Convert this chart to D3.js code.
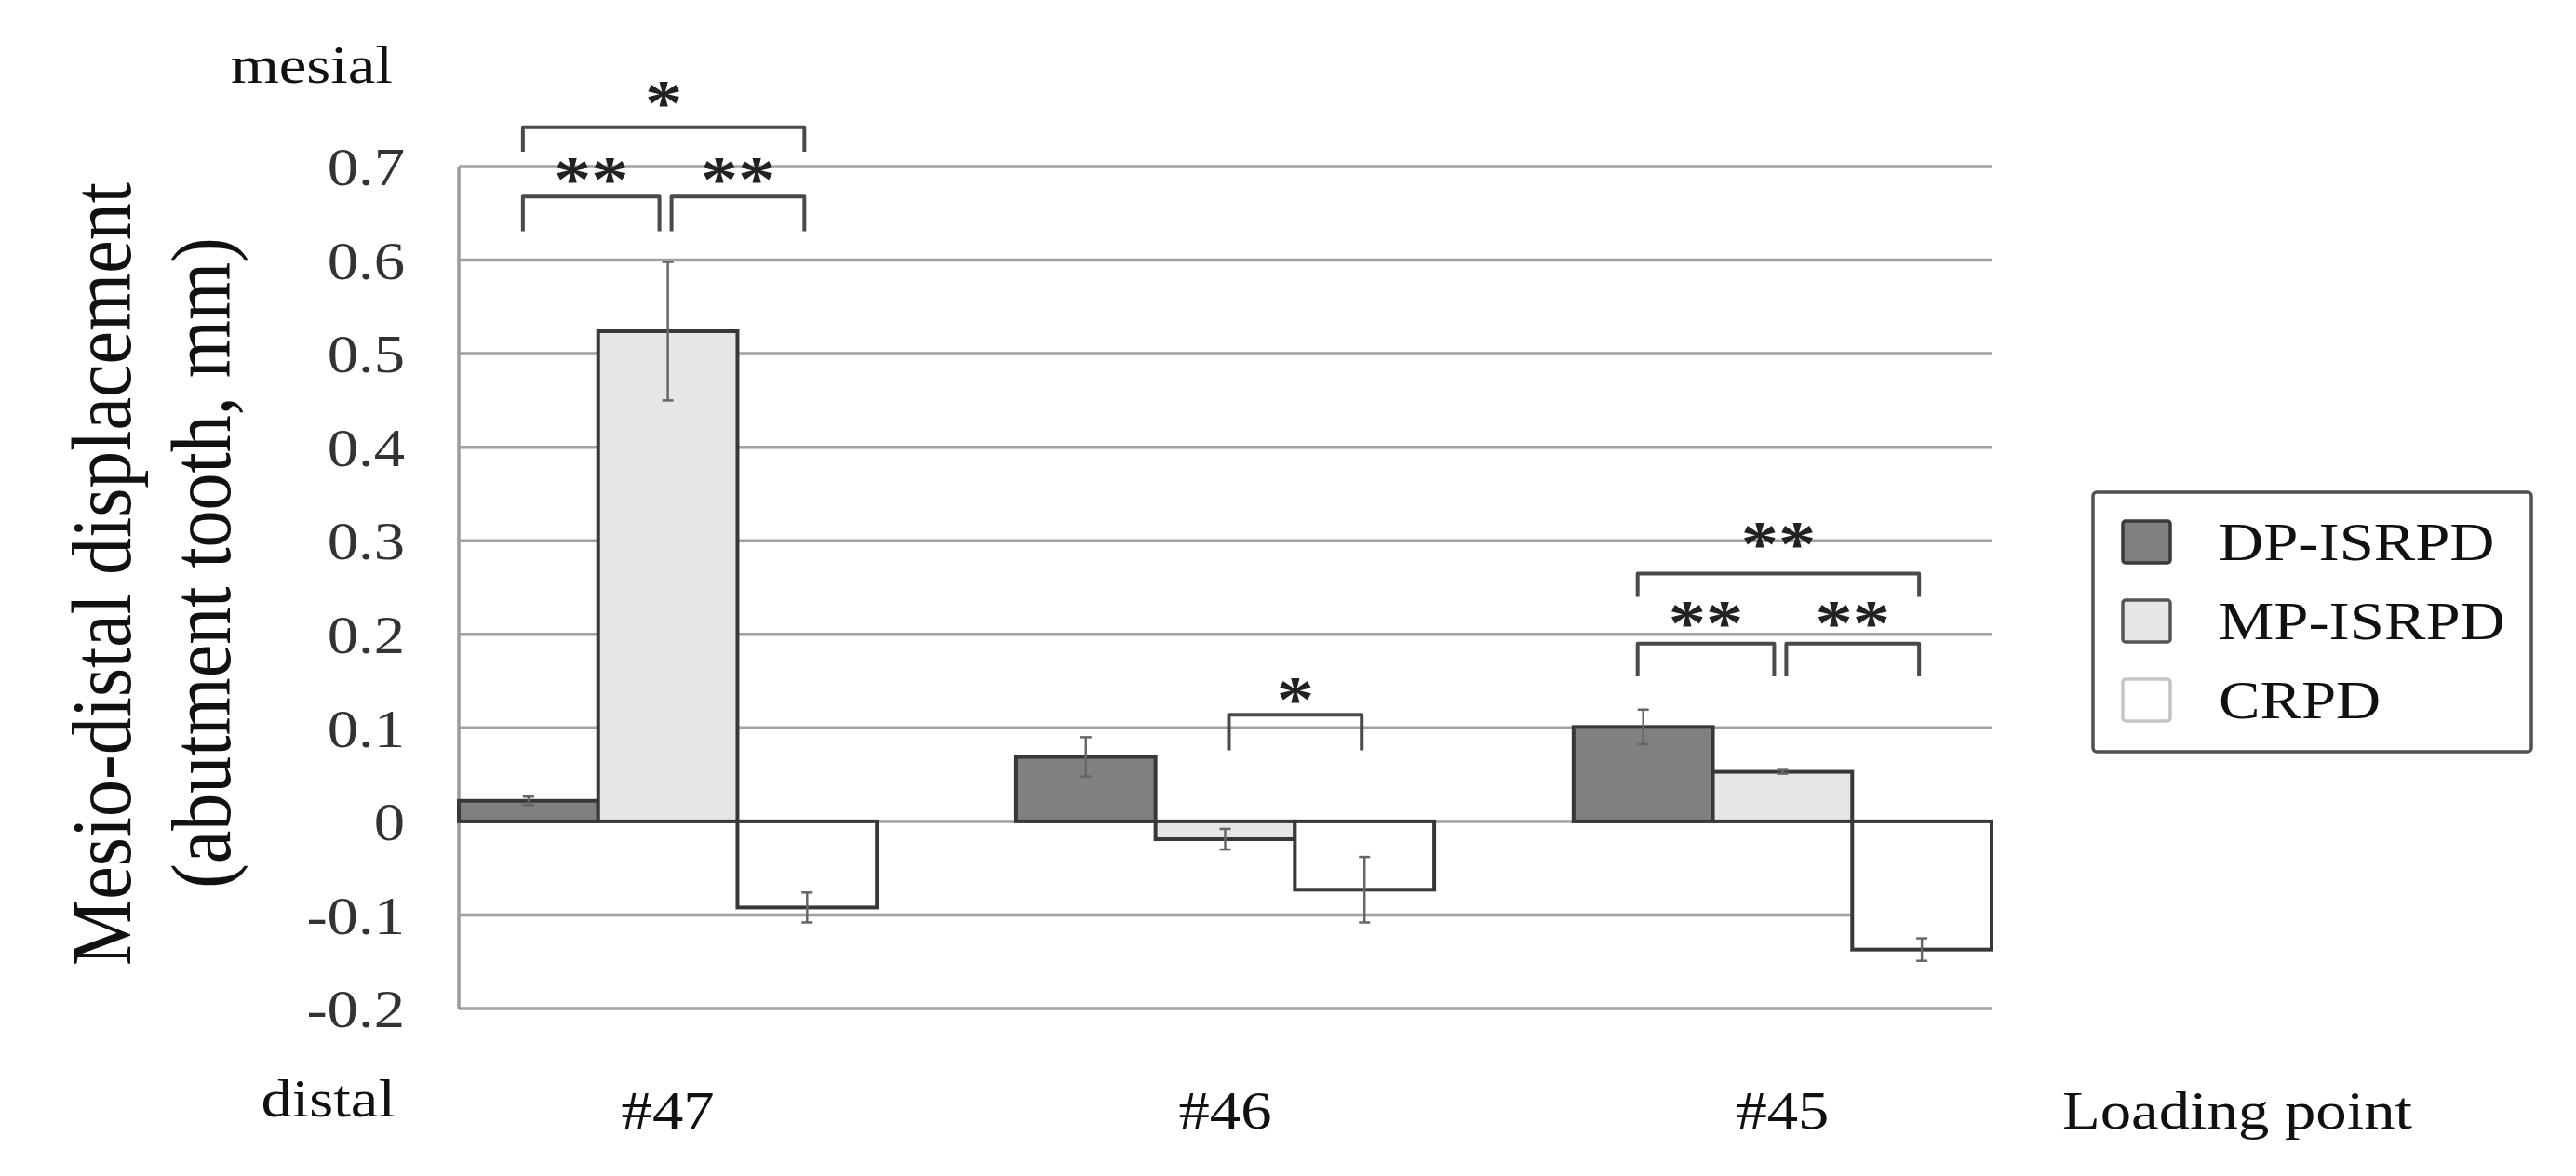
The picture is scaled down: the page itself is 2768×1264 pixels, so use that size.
<!DOCTYPE html>
<html>
<head>
<meta charset="utf-8">
<script src="https://cdnjs.cloudflare.com/ajax/libs/d3/7.8.5/d3.min.js"></script>
<style>
body { margin: 0; background: #fff; }
text { font-family: "Liberation Serif", "Times New Roman", serif; }
</style>
</head>
<body>
<script>
const categories = ["#47", "#46", "#45"];
const seriesNames = ["DP-ISRPD", "MP-ISRPD", "CRPD"];
const dpValues = [0.022, 0.069, 0.101];
const mpValues = [0.524, -0.019, 0.053];
const crpdValues = [-0.092, -0.073, -0.137];
const dpErr = [0.0045, 0.021, 0.0185];
const mpErr = [0.074, 0.011, 0.002];
const crpdErr = [0.016, 0.035, 0.012];
const yTicks = [-0.2, -0.1, 0, 0.1, 0.2, 0.3, 0.4, 0.5, 0.6, 0.7];

// significance brackets (group, series from/to, bracket height, leg length, label, label height)
const sigGroup = [0, 0, 0, 1, 2, 2, 2];
const sigFrom = [0, 0, 1, 1, 0, 0, 1];
const sigTo = [2, 1, 2, 2, 2, 1, 2];
const sigY = [0.742, 0.668, 0.668, 0.114, 0.265, 0.190, 0.190];
const sigLeg = [0.026, 0.037, 0.037, 0.038, 0.025, 0.035, 0.035];
const sigLabel = ["*", "**", "**", "*", "**", "**", "**"];
const sigLabelY = [0.781, 0.699, 0.699, 0.143, 0.309, 0.225, 0.225];

const width = 2768, height = 1264;
const sx = 1.15; // the picture is a bit stretched sideways

var table = categories.map(function(c, i) {
    return {
        cat: c,
        values: [dpValues[i], mpValues[i], crpdValues[i]],
        errs: [dpErr[i], mpErr[i], crpdErr[i]]
    };
});

var svg = d3.select("body").append("svg")
            .attr("width", width)
            .attr("height", height);

var y = d3.scaleLinear()
          .domain([-0.2, 0.7])
          .range([1084, 179]);

var x0 = d3.scaleBand()
           .domain(categories)
           .range([493, 2140])
           .paddingInner(0.25)
           .paddingOuter(0);

var x1 = d3.scaleBand()
           .domain(seriesNames)
           .range([0, x0.bandwidth()]);

var fill = d3.scaleOrdinal()
             .domain(seriesNames)
             .range(["#808080", "#e6e5e7", "#ffffff"]);

function stretched(g, x, yy, str, anchor) {
    return g.append("text")
            .attr("transform", "translate(" + x + "," + yy + ") scale(" + sx + ",1)")
            .attr("text-anchor", anchor)
            .text(str);
}

// grid
svg.append("g").selectAll("line")
   .data(yTicks)
   .enter().append("line")
   .attr("x1", 493)
   .attr("x2", 2140)
   .attr("y1", function(d) { return y(d); })
   .attr("y2", function(d) { return y(d); })
   .attr("stroke", "#a2a2a2")
   .attr("stroke-width", 3.5);

svg.append("line")
   .attr("x1", 493).attr("x2", 493)
   .attr("y1", y(0.7)).attr("y2", y(-0.2))
   .attr("stroke", "#9c9c9c")
   .attr("stroke-width", 3.5);

// y axis labels
var yAxis = svg.append("g")
               .attr("transform", "translate(435,0)")
               .call(d3.axisLeft(y).tickValues(yTicks).tickSize(0)
                       .tickFormat(function(d) { return String(d); }));
yAxis.select(".domain").remove();
yAxis.selectAll("text")
     .attr("x", 0)
     .attr("dy", "0.34em")
     .attr("transform", "scale(" + sx + ",1)")
     .attr("font-size", 58)
     .attr("font-family", "Liberation Serif")
     .attr("fill", "#333");

// x axis labels
var xAxis = svg.append("g")
               .attr("transform", "translate(0,1213)")
               .call(d3.axisBottom(x0).tickSize(0));
xAxis.select(".domain").remove();
xAxis.selectAll("text")
     .attr("y", 0)
     .attr("dy", null)
     .attr("transform", "scale(" + sx + ",1)")
     .attr("font-size", 58)
     .attr("font-family", "Liberation Serif")
     .attr("fill", "#111");

// bars
var groups = svg.append("g").selectAll("g")
                .data(table)
                .enter().append("g")
                .attr("transform", function(d) { return "translate(" + x0(d.cat) + ",0)"; });

groups.selectAll("rect")
      .data(function(d) { return d.values.map(function(v, j) { return {name: seriesNames[j], v: v}; }); })
      .enter().append("rect")
      .attr("x", function(d) { return x1(d.name); })
      .attr("y", function(d) { return y(Math.max(d.v, 0)); })
      .attr("width", x1.bandwidth())
      .attr("height", function(d) { return Math.abs(y(d.v) - y(0)); })
      .attr("fill", function(d) { return fill(d.name); })
      .attr("stroke", "#383838")
      .attr("stroke-width", 4);

// error bars
var errs = groups.selectAll("g.err")
                 .data(function(d) { return d.values.map(function(v, j) { return {name: seriesNames[j], v: v, e: d.errs[j]}; }); })
                 .enter().append("g")
                 .attr("class", "err")
                 .attr("stroke", "#666")
                 .attr("stroke-width", 2.5);

errs.append("line")
    .attr("x1", function(d) { return x1(d.name) + x1.bandwidth() / 2; })
    .attr("x2", function(d) { return x1(d.name) + x1.bandwidth() / 2; })
    .attr("y1", function(d) { return y(d.v - d.e); })
    .attr("y2", function(d) { return y(d.v + d.e); });

[-1, 1].forEach(function(s) {
    errs.append("line")
        .attr("x1", function(d) { return x1(d.name) + x1.bandwidth() / 2 - 6; })
        .attr("x2", function(d) { return x1(d.name) + x1.bandwidth() / 2 + 6; })
        .attr("y1", function(d) { return y(d.v + s * d.e); })
        .attr("y2", function(d) { return y(d.v + s * d.e); });
});

// significance brackets
var sig = sigGroup.map(function(g, i) {
    var cat = categories[g];
    var a = x0(cat) + x1(seriesNames[sigFrom[i]]) + x1.bandwidth() / 2;
    var b = x0(cat) + x1(seriesNames[sigTo[i]]) + x1.bandwidth() / 2;
    a += sigFrom[i] == 1 ? 4 : -6;
    b += sigTo[i] == 1 ? -9 : -3;
    return {a: a, b: b, y: sigY[i], leg: sigLeg[i], label: sigLabel[i], ly: sigLabelY[i]};
});

svg.append("g").selectAll("path")
   .data(sig)
   .enter().append("path")
   .attr("d", function(d) {
       return "M" + d.a + "," + y(d.y - d.leg) + "V" + y(d.y) + "H" + d.b + "V" + y(d.y - d.leg);
   })
   .attr("fill", "none")
   .attr("stroke", "#4a4a4a")
   .attr("stroke-width", 4)
   .attr("stroke-linejoin", "round");

var sigText = svg.append("g")
                 .attr("font-size", 70)
                 .attr("font-weight", "bold")
                 .attr("fill", "#222");
sig.forEach(function(d) {
    stretched(sigText, (d.a + d.b) / 2, y(d.ly) + 36, d.label, "middle");
});

// other texts
var labels = svg.append("g")
                .attr("font-size", 58)
                .attr("fill", "#111");
stretched(labels, 422, 89, "mesial", "end");
stretched(labels, 425, 1200, "distal", "end");
stretched(labels, 2216, 1213, "Loading point", "start");

var title = svg.append("g")
               .attr("font-size", 80)
               .attr("fill", "#111");
title.append("text")
     .attr("transform", "translate(140,617) rotate(-90) scale(1," + sx + ")")
     .attr("text-anchor", "middle")
     .text("Mesio-distal displacement");
title.append("text")
     .attr("transform", "translate(247,605) rotate(-90) scale(1," + sx + ")")
     .attr("text-anchor", "middle")
     .text("(abutment tooth, mm)");

// legend
var legend = svg.append("g");
legend.append("rect")
      .attr("x", 2249).attr("y", 529)
      .attr("width", 471).attr("height", 279)
      .attr("rx", 4)
      .attr("fill", "#fff")
      .attr("stroke", "#505050")
      .attr("stroke-width", 3.5);

var swatchStroke = ["#3a3a3a", "#555", "#c4c4c4"];
var items = legend.selectAll("g.item")
                  .data(seriesNames)
                  .enter().append("g")
                  .attr("class", "item")
                  .attr("transform", function(d, i) { return "translate(2281," + (560 + i * 85) + ")"; });

items.append("rect")
     .attr("width", 51)
     .attr("height", 45)
     .attr("rx", 3)
     .attr("fill", function(d) { return fill(d); })
     .attr("stroke", function(d, i) { return swatchStroke[i]; })
     .attr("stroke-width", 3.5);

items.each(function(d) {
    stretched(d3.select(this), 103, 42, d, "start")
        .attr("font-size", 58)
        .attr("fill", "#111");
});
</script>
</body>
</html>
